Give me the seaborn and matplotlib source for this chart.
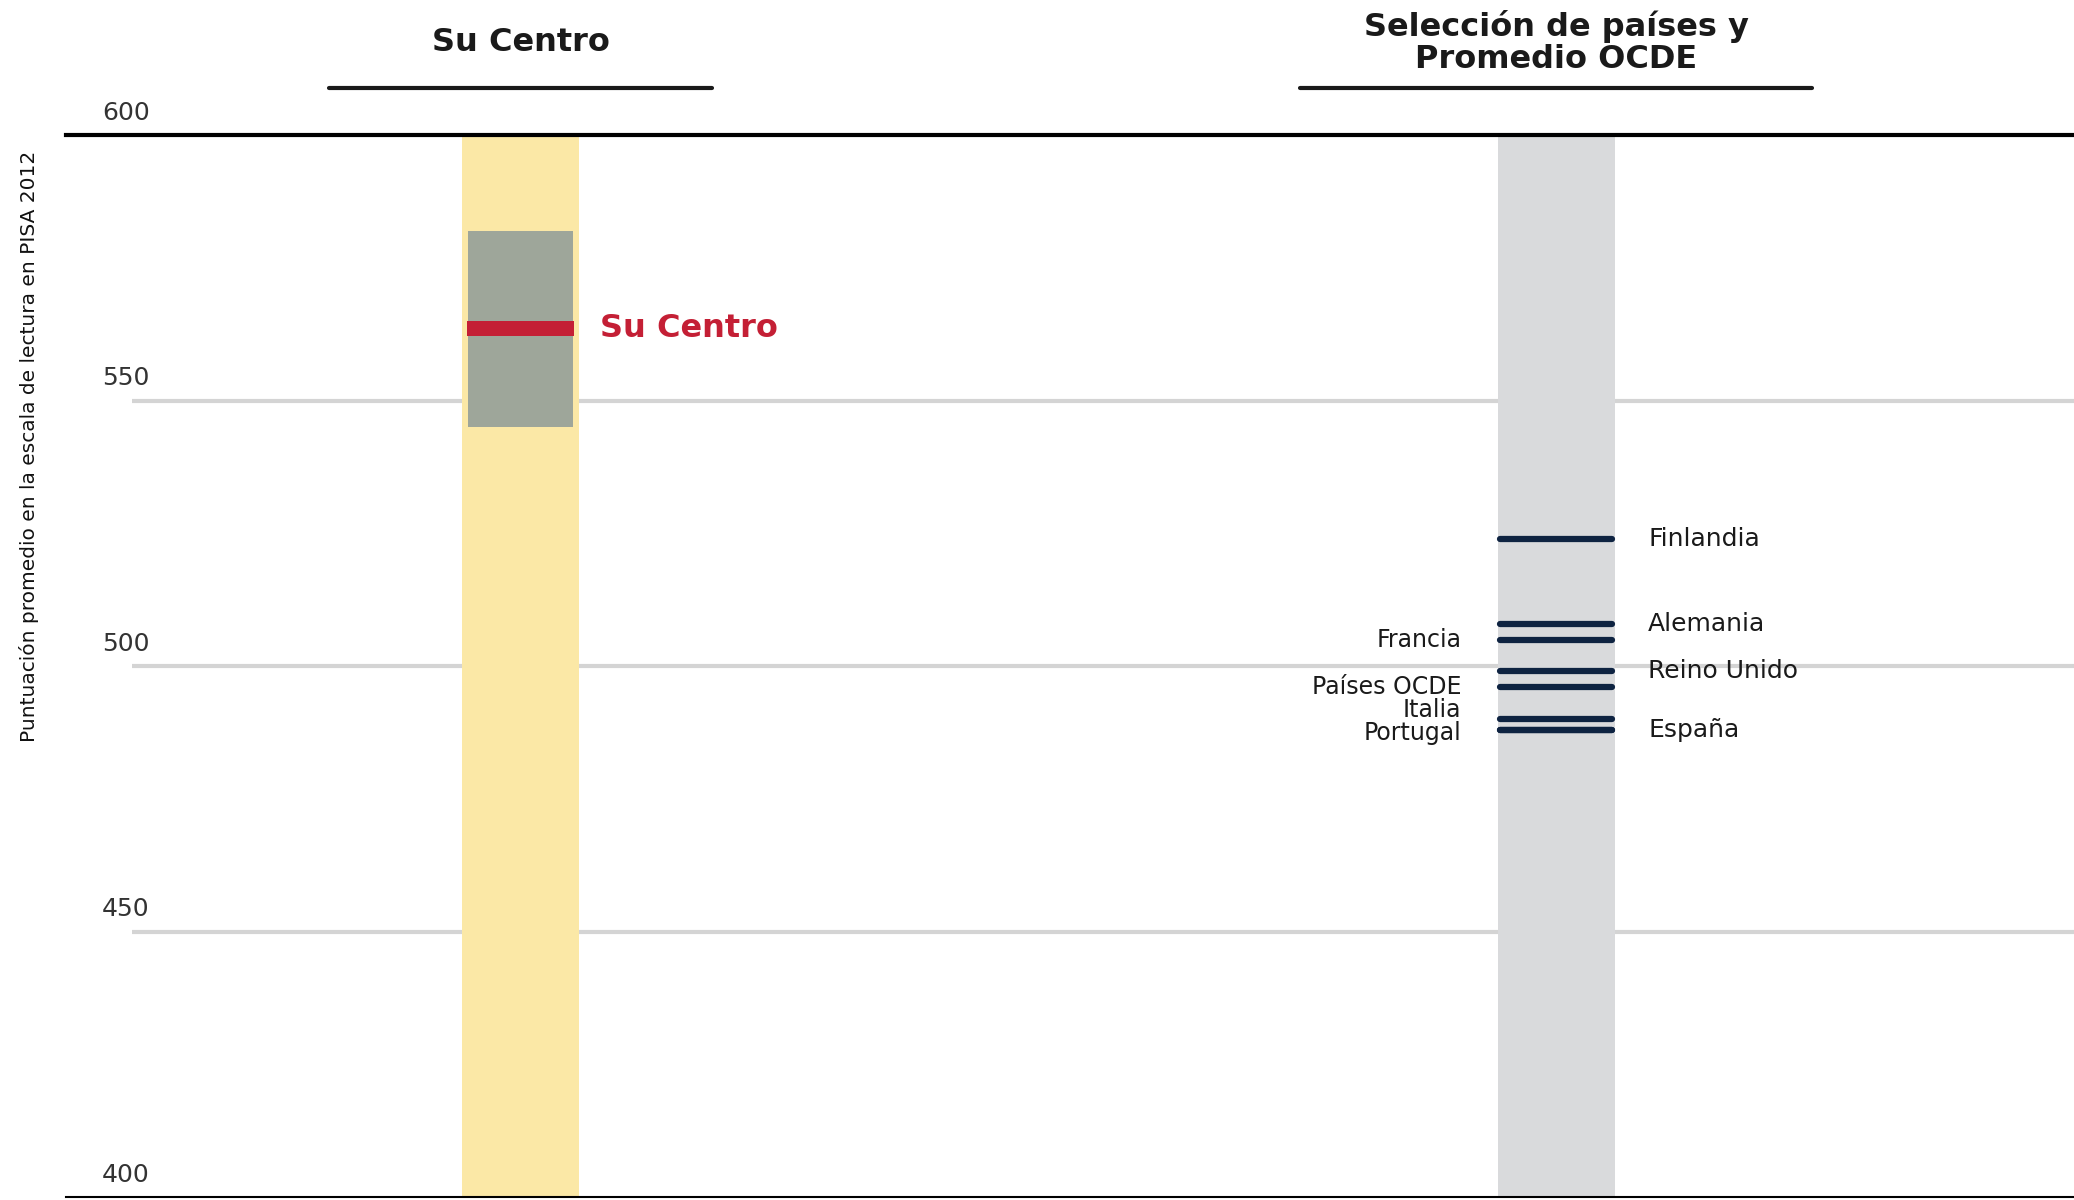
import matplotlib
matplotlib.use("Agg")
import matplotlib.pyplot as plt
import seaborn as sns
import pandas as pd

# data
columnas = ["Su Centro", "Selección de países y\nPromedio OCDE"]
centro = 563.5
centro_inf = 545
centro_sup = 582
paises = ["Finlandia", "Alemania", "Francia", "Reino Unido", "Países OCDE", "Italia", "Portugal", "España"]
puntuacion = [524, 508, 505, 499, 496, 490, 488, 488]
lado = ["der", "der", "izq", "der", "izq", "izq", "izq", "der"]
ticks = [400, 450, 500, 550, 600]
ylabel = "Puntuación promedio en la escala de lectura en PISA 2012"

sns.set_theme(style="white")
plt.rcParams["font.family"] = ["DejaVu Sans"]

fig = plt.figure(figsize=(20.74, 12), dpi=100)
ax = fig.add_axes([0.0319, 0.0022, 0.9681, 0.8853])

# fondo de las columnas (barras hasta 600, recortadas por ylim)
bandas = pd.DataFrame({"col": columnas, "top": [600, 600]})
sns.barplot(data=bandas, x="col", y="top", hue="col", order=columnas,
            palette=["#FBE8A6", "#D9DADC"], width=0.113, legend=False,
            saturation=1, ax=ax)
for p in ax.patches:
    p.set_zorder(2)
    p.set_edgecolor("none")

# lineas guia
ax.hlines([t for t in ticks if 400 < t < 600], -0.375, 1.5, color="#D4D4D4", lw=3, zorder=1)

# Su Centro: intervalo y valor
ax.bar(0, centro_sup - centro_inf, bottom=centro_inf, width=0.102, color="#9EA69A",
       edgecolor="none", linewidth=0, zorder=3)
ax.bar(0, 2.8, bottom=centro - 1.4, width=0.104, color="#C41F35",
       edgecolor="none", linewidth=0, zorder=4)
ax.text(0.077, centro, "Su Centro", color="#C41F35", fontsize=23, fontweight="bold",
        va="center", ha="left")

# paises
lc = ax.hlines(puntuacion, 1 - 0.054, 1 + 0.054, color="#0E2341", lw=4.5, zorder=4)
lc.set_capstyle("round")
ajuste = {"Italia": 1.7, "Portugal": -0.6}
for nombre, val, l in zip(paises, puntuacion, lado):
    y = val + ajuste.get(nombre, 0)
    if l == "izq":
        ax.text(0.9087, y, nombre, ha="right", va="center", fontsize=17, color="#1a1a1a")
    else:
        ax.text(1.0888, y, nombre, ha="left", va="center", fontsize=18, color="#1a1a1a")

# etiquetas del eje
for t in ticks:
    ax.text(-0.381, t + 4.2, str(t), ha="center", va="center", fontsize=18, color="#333333")

ax.set_xlim(-0.4387, 1.5)
ax.set_ylim(400, 600)
ax.set_xticks([])
ax.set_yticks([])
ax.set_xlabel("")
ax.set_ylabel("")
for s in ["left", "right"]:
    ax.spines[s].set_visible(False)
ax.spines["top"].set_color("black")
ax.spines["top"].set_linewidth(3)
ax.spines["bottom"].set_color("black")
ax.spines["bottom"].set_linewidth(1.5)

fig.text(0.014, 0.628, ylabel, rotation=90, ha="center", va="center", fontsize=14.5,
         color="#111111")

# titulos de columna
fig.text(393.5 / 1568, 1 - 32 / 907, columnas[0], ha="center", va="center",
         fontsize=23, fontweight="bold", color="#1a1a1a")
fig.text(1176.5 / 1568, 1 - 32 / 907, columnas[1], ha="center", va="center",
         fontsize=23, fontweight="bold", color="#1a1a1a", linespacing=1.05)
fig.add_artist(plt.Line2D([249 / 1568, 538 / 1568], [0.927, 0.927], color="#1a1a1a", lw=3))
fig.add_artist(plt.Line2D([983 / 1568, 1370 / 1568], [0.927, 0.927], color="#1a1a1a", lw=3))

fig.savefig("out.png", dpi=100)
